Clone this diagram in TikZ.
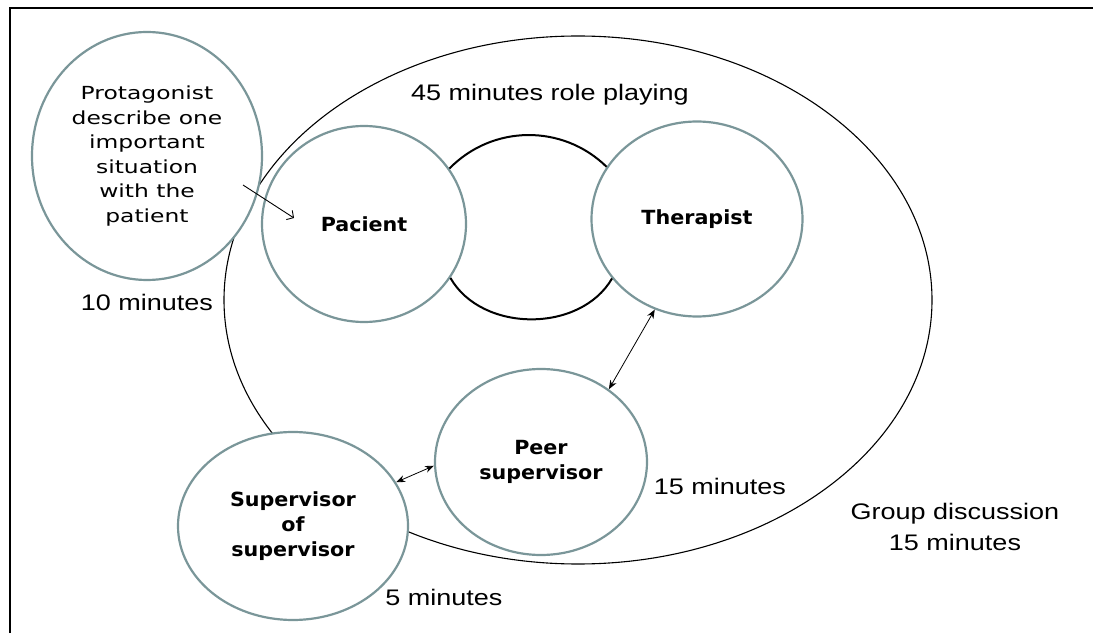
\documentclass[tikz,border=0pt]{standalone}
\usepackage{fontspec}
\newfontfamily\rolefont[FakeStretch=1.06]{DejaVu Sans}
\newfontfamily\storyfont[FakeStretch=1.3]{DejaVu Sans}
\newfontfamily\timefont[FakeStretch=1.2]{Liberation Sans}
\usetikzlibrary{shapes,arrows,arrows.meta,positioning}
\definecolor{ringgray}{RGB}{122,150,153}

\begin{document}
\begin{tikzpicture}[x=1pt, y=1pt,
        bubble/.style={ellipse, draw=ringgray, line width=2.2pt, fill=white, inner sep=0pt, align=center},
        role/.style={bubble, font=\rolefont\bfseries\fontsize{19.5}{25}\selectfont},
        timetext/.style={font=\timefont\fontsize{22.5}{31}\selectfont, align=center},
        link/.style={{Stealth[length=9pt,width=7pt]}-{Stealth[length=9pt,width=7pt]}, line width=0.8pt},
        arrow/.style={-{Straight Barb[length=5pt,width=11pt]}, line width=0.9pt},
        swing/.style={line width=2pt}]

    \useasboundingbox (0,0) rectangle (1093,633);
    \draw[line width=2.5pt] (10,0) -- (10,625) -- (1093,625);

    % group discussion ellipse
    \node[ellipse, draw, line width=1.1pt, minimum width=708pt, minimum height=528pt] (group) at (578,333) {};

    \node[bubble, minimum width=230pt, minimum height=248pt, font=\storyfont\fontsize{18}{24.5}\selectfont] (protag) at (147,477) {Protagonist\\describe one\\important\\situation\\with the\\patient};
    \node[role, minimum width=204pt, minimum height=196pt] (pacient) at (364,409) {Pacient};
    \node[role, minimum width=211pt, minimum height=195pt] (therapist) at (697,414) {Therapist};
    \node[role, minimum width=212pt, minimum height=186pt] (peer) at (541,171) {Peer\\supervisor};
    \node[role, minimum width=230pt, minimum height=188pt] (sos) at (293,107) {Supervisor\\of\\supervisor};

    % role playing ring
    \draw[swing] (pacient.33) to[bend left=45] (therapist.150);
    \draw[swing] (pacient.-32) to[bend right=60] (therapist.215);

    \path (protag.center) ++(96,-29) coordinate (pstart);
    \path (pacient.center) ++(-70,6) coordinate (pend);
    \draw[arrow] (pstart) -- (pend);
    \draw[link] (therapist.245) -- (peer.47);
    \draw[link] (sos.23) -- (peer.182);

    \node[timetext] (roleplay) at (550,538) {45 minutes role playing};
    \node[timetext] (ten) at (147,331) {10 minutes};
    \node[timetext] (fifteen) at (720,147) {15 minutes};
    \node[timetext] (groupt) at (955,106) {Group discussion\\15 minutes};
    \node[timetext] (five) at (444,36) {5 minutes};
\end{tikzpicture}
\end{document}
